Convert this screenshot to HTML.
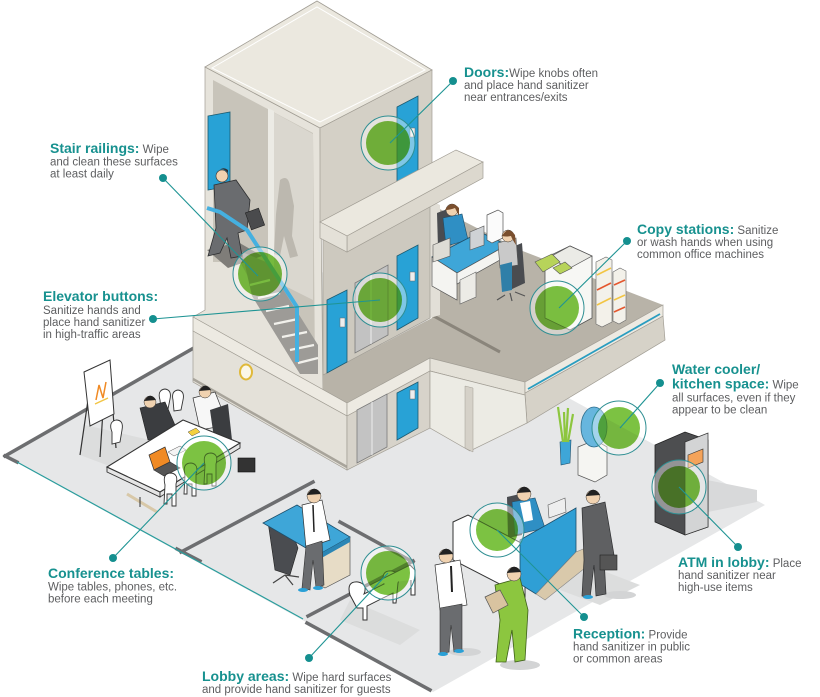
<!DOCTYPE html>
<html><head><meta charset="utf-8">
<style>
html,body{margin:0;padding:0;background:#fff;}
svg{display:block;}
.t{font-family:"Liberation Sans",sans-serif;font-weight:bold;font-size:14px;fill:#17918f;}
.b{font-family:"Liberation Sans",sans-serif;font-size:11.5px;fill:#5d5e60;}
.gc{mix-blend-mode:multiply;}
</style></head><body>
<svg width="820" height="697" viewBox="0 0 820 697" xmlns="http://www.w3.org/2000/svg">
<rect width="820" height="697" fill="#fff"/>

<!-- FLOOR -->
<polygon points="3,455 330,268 765,505 433,692" fill="#e6e7e8"/>
<!-- floor shadows -->
<polygon points="707,480 757,490 757,502 708,512" fill="#d8d9da"/>
<polygon points="575,560 640,585 600,605 560,590" fill="#dcdddd"/>
<polygon points="85,425 150,440 120,470 80,455" fill="#dcdddd"/>
<polygon points="350,600 420,630 400,645 340,620" fill="#dcdddd"/>
<ellipse cx="520" cy="665" rx="20" ry="5" fill="#d3d4d5"/>
<ellipse cx="465" cy="652" rx="16" ry="4" fill="#d3d4d5"/>
<ellipse cx="620" cy="595" rx="16" ry="4" fill="#d3d4d5"/>

<!-- floor walls -->
<g stroke="#6d6e70" stroke-width="3.5" fill="none" stroke-linecap="square">
<line x1="5" y1="456" x2="192" y2="349"/>
<line x1="5" y1="456" x2="17" y2="462"/>
<line x1="181" y1="552" x2="313" y2="482"/>
<line x1="177" y1="549" x2="200" y2="561"/>
<line x1="308" y1="616" x2="413" y2="561"/>
<line x1="340" y1="522" x2="413" y2="562"/>
<line x1="307" y1="623" x2="430" y2="690"/>
</g>
<line x1="17" y1="462" x2="303" y2="619" stroke="#2a9d9d" stroke-width="1.2"/>

<!-- BUILDING -->
<!-- stairwell / tower left face -->
<polygon points="205,67 320,128 323,390 193,317 205,310" fill="#e6e3db" stroke="#a19d94" stroke-width="0.7"/>
<polygon points="213,80 313,133 315,372 300,372 240,262 213,262" fill="#c8c4ba"/>
<polygon points="273,112 313,134 313,300 273,280" fill="#dad7cf"/>
<polygon points="268,108 274,111 274,270 268,268" fill="#ecebe5"/>
<!-- shadow silhouette -->
<path d="M280,180 q8,-6 10,6 l4,20 l-2,30 l6,20 l-8,2 l-6,-22 l-4,20 l-6,-2 l2,-40 z" fill="#bcb8af"/>
<!-- far door -->
<polygon points="208,116 230,112 230,186 208,190" fill="#28a2d6" stroke="#1c5a70" stroke-width="0.8"/>
<!-- landing -->
<polygon points="207,250 238,242 262,256 228,268" fill="#7f7d79"/>
<!-- stairs -->
<polygon points="242,252 266,262 318,345 318,374 300,374 252,296" fill="#9d9b97"/>
<g stroke="#f2f1ec" stroke-width="2.2">
<line x1="250" y1="285" x2="270" y2="280"/>
<line x1="258" y1="298" x2="280" y2="293"/>
<line x1="266" y1="311" x2="289" y2="306"/>
<line x1="274" y1="324" x2="298" y2="319"/>
<line x1="282" y1="337" x2="307" y2="332"/>
<line x1="290" y1="350" x2="314" y2="345"/>
<line x1="298" y1="363" x2="318" y2="358"/>
</g>
<!-- man on stairs -->
<polygon points="214,185 236,180 250,200 247,230 238,233 242,256 231,258 227,238 220,253 208,256 216,228" fill="#6a6c6f" stroke="#2e2f31" stroke-width="0.8"/>
<circle cx="222" cy="176" r="6" fill="#f0d2b0" stroke="#333" stroke-width="0.6"/>
<path d="M216,174 q6,-9 12,-1 l0,-3 q-6,-5 -12,4z" fill="#2f3032"/>
<rect x="248" y="210" width="14" height="18" fill="#4a4b4d" stroke="#222" stroke-width="0.6" transform="rotate(-20 255 219)"/>
<!-- railing -->
<polyline points="207,208 220,212 247,230 297,307 297,362" fill="none" stroke="#45b0e0" stroke-width="4" stroke-linejoin="round"/>

<!-- tower top -->
<polygon points="205,67 317,1 432,70 320,128" fill="#ebe8df" stroke="#a19d94" stroke-width="0.8"/>
<polygon points="212,68 317,7 425,70 320,122" fill="none" stroke="#fff" stroke-width="1"/>
<!-- tower right face upper -->
<polygon points="320,128 432,70 432,163 320,222" fill="#d4d0c6" stroke="#a19d94" stroke-width="0.7"/>
<polygon points="397,107 418,96 418,172 397,183" fill="#28a2d6" stroke="#1c5a70" stroke-width="0.8"/>
<rect x="410" y="128" width="5" height="9" fill="#eee" stroke="#666" stroke-width="0.5"/>

<!-- 2nd floor platform (taupe) -->
<polygon points="432,205 520,250 663,305 525,382 430,358 347,403 323,392 323,375 432,318" fill="#b8b3a8"/>
<line x1="430" y1="314" x2="500" y2="352" stroke="#8a857b" stroke-width="3"/>
<polygon points="430,200 440,205 440,315 430,318" fill="#e2dfd7"/>

<!-- tower lower face -->
<polygon points="323,222 430,166 430,318 323,375" fill="#cdc9bf" stroke="#a19d94" stroke-width="0.7"/>
<polygon points="327,300 347,290 347,362 327,373" fill="#28a2d6" stroke="#1c5a70" stroke-width="0.8"/>
<rect x="340" y="318" width="5" height="9" fill="#eee" stroke="#666" stroke-width="0.5"/>
<polygon points="355,283 388,265 388,335 355,353" fill="#c2c2c2" stroke="#7a7a7a" stroke-width="0.8"/>
<line x1="371" y1="274" x2="371" y2="344" stroke="#eee" stroke-width="1"/>
<polygon points="397,256 418,245 418,318 397,330" fill="#28a2d6" stroke="#1c5a70" stroke-width="0.8"/>
<rect x="410" y="272" width="5" height="9" fill="#eee" stroke="#666" stroke-width="0.5"/>

<!-- slab -->
<polygon points="320,222 456,150 483,162 347,236" fill="#ebe8df" stroke="#a19d94" stroke-width="0.7"/>
<polygon points="347,236 483,162 483,178 347,252" fill="#dcd8ce" stroke="#a19d94" stroke-width="0.7"/>
<polygon points="320,222 347,236 347,252 320,238" fill="#e4e1d8" stroke="#a19d94" stroke-width="0.7"/>

<!-- office on 2nd floor -->
<polygon points="437,213 450,208 452,245 438,248" fill="#4a4c50"/>
<polygon points="443,218 462,214 468,240 446,246" fill="#2f8fc4" stroke="#1d4f6b" stroke-width="0.6"/>
<circle cx="452" cy="210" r="6" fill="#f0d2b0" stroke="#333" stroke-width="0.5"/>
<path d="M445,210 q6,-11 14,-2 l0,8 q-3,-6 -4,-8 q-5,2 -10,2z" fill="#7a4f2e"/>
<polygon points="432,257 480,232 507,245 457,273" fill="#3ea6d8" stroke="#1d4f6b" stroke-width="0.8"/>
<polygon points="432,257 457,273 457,300 432,286" fill="#f4f4f1" stroke="#555" stroke-width="0.7"/>
<polygon points="457,273 507,245 507,256 457,284" fill="#f4f4f1" stroke="#555" stroke-width="0.7"/>
<polygon points="460,280 476,272 476,297 460,304" fill="#ecebe6" stroke="#666" stroke-width="0.6"/>
<polygon points="433,245 450,238 450,256 433,262" fill="#dedcd5" stroke="#555" stroke-width="0.6"/>
<polygon points="470,232 484,226 484,245 470,250" fill="#cfd2d5" stroke="#555" stroke-width="0.6"/>
<polygon points="487,215 498,210 503,213 503,238 492,243 487,240" fill="#fbfbfb" stroke="#555" stroke-width="0.7"/>
<polygon points="505,250 522,243 525,283 510,290" fill="#4a4c50"/>
<polygon points="498,243 516,238 518,265 500,268" fill="#c9c9c9" stroke="#555" stroke-width="0.6"/>
<polygon points="500,265 512,262 512,290 502,292" fill="#2f7fa8"/>
<circle cx="508" cy="236" r="6" fill="#f0d2b0" stroke="#333" stroke-width="0.5"/>
<path d="M502,236 q6,-11 13,-1 l1,10 q-4,-6 -5,-9 q-5,1 -9,0z" fill="#7a4f2e"/>
<g stroke="#555" stroke-width="1.2" fill="none"><path d="M505,295 l-8,5 M515,292 l10,4 M510,293 l2,8"/></g>
<!-- copier -->
<polygon points="545,258 570,246 592,256 592,318 570,330 545,318" fill="#f7f7f4" stroke="#555" stroke-width="0.8"/>
<polygon points="570,246 592,256 570,268 548,258" fill="#ebebe6" stroke="#555" stroke-width="0.7"/>
<polygon points="535,262 552,254 560,262 543,272" fill="#b7d35a" stroke="#555" stroke-width="0.6"/>
<polygon points="553,268 565,262 572,268 560,274" fill="#b7d35a" stroke="#555" stroke-width="0.6"/>
<!-- paper stacks -->
<polygon points="596,262 606,257 612,260 612,322 602,327 596,324" fill="#f3f1ea" stroke="#666" stroke-width="0.6"/>
<polygon points="613,272 620,268 626,271 626,320 619,324 613,321" fill="#f3f1ea" stroke="#666" stroke-width="0.6"/>
<g stroke-width="1.6">
<line x1="597" y1="275" x2="611" y2="268" stroke="#f2c544"/>
<line x1="597" y1="290" x2="611" y2="283" stroke="#e4572e"/>
<line x1="597" y1="305" x2="611" y2="298" stroke="#f2c544"/>
<line x1="614" y1="285" x2="625" y2="280" stroke="#e4572e"/>
<line x1="614" y1="300" x2="625" y2="295" stroke="#f2c544"/>
<line x1="614" y1="312" x2="625" y2="307" stroke="#e4572e"/>
</g>

<!-- ledge bands -->
<polygon points="193,317 347,403 347,416 193,331" fill="#edeae2" stroke="#a19d94" stroke-width="0.7"/>
<polygon points="347,403 430,358 430,371 347,416" fill="#edeae2" stroke="#a19d94" stroke-width="0.7"/>
<polygon points="430,358 525,382 525,395 430,371" fill="#e4e1d8" stroke="#a19d94" stroke-width="0.7"/>
<polygon points="525,393 663,316 665,340 527,423" fill="#d6d2c8" stroke="#a19d94" stroke-width="0.7"/>
<polygon points="525,382 663,305 663,316 525,393" fill="#edeae2" stroke="#a19d94" stroke-width="0.7"/>
<line x1="528" y1="389" x2="660" y2="314" stroke="#2a9dc0" stroke-width="1.8"/>

<!-- ground floor -->
<polygon points="193,331 347,416 347,470 193,382" fill="#e4e1d9" stroke="#a19d94" stroke-width="0.7"/>
<line x1="193" y1="379" x2="347" y2="467" stroke="#a8a49b" stroke-width="2.5"/>
<ellipse cx="246" cy="372" rx="6" ry="7.5" fill="#fbf7e8" stroke="#e0b93a" stroke-width="2"/>
<polygon points="347,416 430,371 430,428 347,470" fill="#d7d3ca" stroke="#a19d94" stroke-width="0.7"/>
<polygon points="357,410 387,394 387,447 357,463" fill="#c3c3c3" stroke="#7a7a7a" stroke-width="0.8"/>
<line x1="372" y1="402" x2="372" y2="455" stroke="#eee" stroke-width="1"/>
<polygon points="397,393 418,382 418,428 397,440" fill="#28a2d6" stroke="#1c5a70" stroke-width="0.8"/>
<rect x="410" y="390" width="5" height="9" fill="#eee" stroke="#666" stroke-width="0.5"/>
<polygon points="430,371 525,395 527,423 470,451 430,428" fill="#ecebe4" stroke="#a19d94" stroke-width="0.7"/>
<polygon points="465,386 473,388 473,452 465,448" fill="#d5d1c8" stroke="#a19d94" stroke-width="0.5"/>

<!-- CONFERENCE ROOM -->
<g stroke="#333" stroke-width="1.2" fill="none">
<line x1="88" y1="400" x2="80" y2="455"/>
<line x1="104" y1="395" x2="100" y2="457"/>
<line x1="112" y1="400" x2="116" y2="448"/>
</g>
<polygon points="84,372 110,360 114,414 90,426" fill="#fff" stroke="#333" stroke-width="1"/>
<polyline points="96,400 99,385 103,398 106,382" fill="none" stroke="#f08a24" stroke-width="1.5"/>
<line x1="95" y1="404" x2="108" y2="398" stroke="#f2c544" stroke-width="1.5"/>
<g fill="#fff" stroke="#333" stroke-width="0.9">
<path d="M112,432 q-4,-10 4,-12 q8,0 6,10 l-2,12 l-8,2z"/>
<path d="M160,400 q-3,-10 5,-11 q7,1 5,10 l-2,10 l-7,1z"/>
<path d="M173,400 q-2,-9 5,-10 q7,1 5,10 l-2,10 l-7,1z"/>
</g>
<polygon points="140,408 165,402 178,432 148,440" fill="#3b3d40" stroke="#222" stroke-width="0.6"/>
<circle cx="150" cy="402" r="6" fill="#f0d2b0" stroke="#333" stroke-width="0.5"/>
<path d="M144,401 q6,-10 12,-1z" fill="#222"/>
<polygon points="193,398 215,392 228,425 200,430" fill="#f7f7f7" stroke="#333" stroke-width="0.7"/>
<polygon points="210,410 228,404 232,440 215,445" fill="#3b3d40"/>
<circle cx="205" cy="392" r="6" fill="#f0d2b0" stroke="#333" stroke-width="0.5"/>
<path d="M199,391 q6,-10 12,-1z" fill="#222"/>
<polygon points="107,467 160,492 160,497 107,472" fill="#e5e5e5" stroke="#333" stroke-width="0.9"/>
<polygon points="160,492 240,443 240,448 160,497" fill="#e5e5e5" stroke="#333" stroke-width="0.9"/>
<polygon points="107,467 183,420 240,443 160,492" fill="#fff" stroke="#333" stroke-width="1.1"/>
<line x1="127" y1="494" x2="157" y2="512" stroke="#d8c8a8" stroke-width="3"/>
<line x1="140" y1="497" x2="140" y2="507" stroke="#333" stroke-width="1"/>
<polygon points="149,455 165,447 170,462 154,470" fill="#f08a24" stroke="#333" stroke-width="0.7"/>
<polygon points="154,470 170,462 180,468 164,476" fill="#555" stroke="#333" stroke-width="0.6"/>
<polygon points="188,432 196,428 200,432 192,436" fill="#f4d03f" stroke="#555" stroke-width="0.5"/>
<polygon points="168,452 180,446 186,450 174,456" fill="#f4f4f4" stroke="#555" stroke-width="0.5"/>
<g fill="#fff" stroke="#333" stroke-width="0.9">
<path d="M165,485 q-3,-12 6,-12 q8,1 5,11 l0,22 l-4,0 l0,-12 l-5,0 l0,10 l-3,0z"/>
<path d="M185,475 q-3,-12 6,-12 q8,1 5,11 l0,22 l-4,0 l0,-12 l-5,0 l0,10 l-3,0z"/>
<path d="M205,465 q-3,-12 6,-12 q8,1 5,11 l0,22 l-4,0 l0,-12 l-5,0 l0,10 l-3,0z"/>
</g>
<rect x="238" y="458" width="17" height="14" fill="#333" stroke="#111" stroke-width="0.6"/>

<!-- LOBBY OFFICE -->
<polygon points="268,522 285,515 298,548 290,575 275,570" fill="#4a4c50" stroke="#222" stroke-width="0.6"/>
<g stroke="#444" stroke-width="1.2"><path d="M285,575 l-12,8 M285,575 l8,10 M285,575 l14,2"/></g>
<polygon points="318,555 350,537 350,575 325,588 318,584" fill="#e7dcc6" stroke="#555" stroke-width="0.7"/>
<polygon points="263,523 297,505 350,537 318,555" fill="#3ea6d8" stroke="#1d4f6b" stroke-width="0.8"/>
<polygon points="318,555 350,537 350,542 318,560" fill="#2b86b5"/>
<polygon points="302,505 322,500 330,540 306,548" fill="#fff" stroke="#333" stroke-width="0.7"/>
<line x1="313" y1="505" x2="314" y2="532" stroke="#222" stroke-width="1.5"/>
<polygon points="306,546 322,541 324,585 316,588 313,560 310,590 302,588" fill="#6a6c6f" stroke="#333" stroke-width="0.6"/>
<ellipse cx="303" cy="590" rx="5" ry="2" fill="#2aa0d6"/>
<ellipse cx="318" cy="588" rx="5" ry="2" fill="#2aa0d6"/>
<circle cx="314" cy="496" r="7" fill="#f0d2b0" stroke="#333" stroke-width="0.5"/>
<path d="M307,495 q7,-12 14,-1z" fill="#222"/>
<g fill="#fff" stroke="#333" stroke-width="1">
<path d="M350,595 q-4,-14 8,-13 q10,2 6,12 l20,-10 q-4,-14 8,-13 q10,2 6,12 l-2,20 l-3,0 l0,-10 l-26,13 l0,14 l-4,0 l0,-12 l-6,0z"/>
<path d="M370,585 l40,-20 l5,5 l0,25 l-4,0 l0,-15"/>
</g>

<!-- WATER COOLER / PLANT -->
<polygon points="560,442 571,440 570,463 561,465" fill="#3ea6d8" stroke="#1d4f6b" stroke-width="0.6"/>
<g stroke="#8dc63f" stroke-width="2.2"><path d="M563,442 l-5,-35 M566,442 l2,-34 M565,442 l-1,-30 M568,442 l5,-28"/></g>
<polygon points="578,447 595,440 607,447 607,475 595,482 578,475" fill="#f5f5f2" stroke="#555" stroke-width="0.7"/>
<ellipse cx="594" cy="427" rx="13" ry="20" fill="#67b6de" stroke="#2f6f8f" stroke-width="0.8"/>
<!-- ATM -->
<polygon points="655,445 685,432 708,440 708,527 685,535 655,522" fill="#4d4e50" stroke="#222" stroke-width="0.8"/>
<polygon points="685,442 708,433 708,527 685,535" fill="#d3d4d5" stroke="#333" stroke-width="0.7"/>
<polygon points="688,455 703,449 703,462 688,468" fill="#f4a35a" stroke="#333" stroke-width="0.6"/>

<!-- RECEPTION -->
<polygon points="507,497 520,494 522,535 508,538" fill="#4a4c50"/>
<polygon points="512,502 535,498 545,528 515,535" fill="#2f8fc4" stroke="#1d4f6b" stroke-width="0.6"/>
<polygon points="520,503 530,501 533,520 524,522" fill="#fff"/>
<circle cx="524" cy="494" r="7" fill="#f0d2b0" stroke="#333" stroke-width="0.5"/>
<path d="M517,493 q7,-12 14,-1z" fill="#222"/>
<polygon points="548,505 565,498 566,512 549,518" fill="#eee" stroke="#555" stroke-width="0.6"/>
<polygon points="453,522 468,515 525,545 525,597 453,560" fill="#fff" stroke="#333" stroke-width="1"/>
<polygon points="520,540 576,508 576,552 536,594 520,584" fill="#2f9fd5" stroke="#1d4f6b" stroke-width="0.8"/>
<polygon points="536,594 576,552 600,542 600,556 545,600" fill="#d9c9ab" stroke="#888" stroke-width="0.6"/>
<polygon points="582,508 605,502 614,555 604,558 606,594 596,596 594,565 590,598 582,596 584,560" fill="#5f6062" stroke="#2e2f31" stroke-width="0.7"/>
<circle cx="593" cy="497" r="7" fill="#f0d2b0" stroke="#333" stroke-width="0.5"/>
<path d="M586,496 q7,-12 14,-1z" fill="#222"/>
<rect x="600" y="555" width="17" height="15" fill="#555" stroke="#222" stroke-width="0.6"/>
<ellipse cx="588" cy="597" rx="5" ry="2" fill="#2aa0d6"/>
<polygon points="435,565 460,560 467,605 440,610" fill="#fff" stroke="#333" stroke-width="0.7"/>
<line x1="451" y1="566" x2="452" y2="592" stroke="#222" stroke-width="2"/>
<polygon points="440,608 462,604 462,650 454,652 451,625 449,652 440,654" fill="#6a6c6f" stroke="#333" stroke-width="0.6"/>
<ellipse cx="443" cy="654" rx="5" ry="2" fill="#2aa0d6"/>
<ellipse cx="459" cy="651" rx="5" ry="2" fill="#2aa0d6"/>
<circle cx="446" cy="556" r="7" fill="#f0d2b0" stroke="#333" stroke-width="0.5"/>
<path d="M439,555 q7,-12 14,-1z" fill="#222"/>
<polygon points="495,585 520,578 528,610 525,660 515,662 512,630 506,662 496,662 500,620" fill="#8cc63f" stroke="#3e5f1a" stroke-width="0.8"/>
<circle cx="514" cy="574" r="7" fill="#f0d2b0" stroke="#333" stroke-width="0.5"/>
<path d="M507,573 q7,-12 14,-1z" fill="#222"/>
<polygon points="485,597 500,590 508,605 493,613" fill="#d9c3a0" stroke="#555" stroke-width="0.7"/>

<!-- GREEN CIRCLES -->
<g stroke="#2f8f93" stroke-width="1">
<circle cx="388" cy="143" r="27" fill="rgba(255,255,255,0.4)"/>
<circle cx="260" cy="274" r="27" fill="rgba(255,255,255,0.4)"/>
<circle cx="380" cy="300" r="27" fill="rgba(255,255,255,0.4)"/>
<circle cx="557" cy="308" r="27" fill="rgba(255,255,255,0.4)"/>
<circle cx="619" cy="428" r="27" fill="rgba(255,255,255,0.4)"/>
<circle cx="679" cy="487" r="27" fill="rgba(255,255,255,0.4)"/>
<circle cx="497" cy="530" r="27" fill="rgba(255,255,255,0.4)"/>
<circle cx="388" cy="573" r="27" fill="rgba(255,255,255,0.4)"/>
<circle cx="204" cy="463" r="27" fill="rgba(255,255,255,0.4)"/>
</g>
<g fill="#7cc242" class="gc">
<circle cx="388" cy="143" r="22"/>
<circle cx="260" cy="274" r="22"/>
<circle cx="380" cy="300" r="22"/>
<circle cx="557" cy="308" r="22"/>
<circle cx="619" cy="428" r="21"/>
<circle cx="679" cy="487" r="21"/>
<circle cx="497" cy="530" r="21"/>
<circle cx="388" cy="573" r="22"/>
<circle cx="204" cy="463" r="22"/>
</g>

<!-- CONNECTORS -->
<g stroke="#1f9494" stroke-width="1.1">
<line x1="453" y1="81" x2="390" y2="143"/>
<line x1="163" y1="178" x2="258" y2="276"/>
<line x1="153" y1="319" x2="380" y2="300"/>
<line x1="627" y1="241" x2="559" y2="308"/>
<line x1="660" y1="383" x2="620" y2="428"/>
<line x1="738" y1="547" x2="679" y2="487"/>
<line x1="584" y1="617" x2="497" y2="530"/>
<line x1="309" y1="658" x2="388" y2="573"/>
<line x1="113" y1="558" x2="204" y2="463"/>
</g>
<g fill="#148f8f">
<circle cx="453" cy="81" r="4"/>
<circle cx="163" cy="178" r="4"/>
<circle cx="153" cy="319" r="4"/>
<circle cx="627" cy="241" r="4"/>
<circle cx="660" cy="383" r="4"/>
<circle cx="738" cy="547" r="4"/>
<circle cx="584" cy="617" r="4"/>
<circle cx="309" cy="658" r="4"/>
<circle cx="113" cy="558" r="4"/>
</g>

<!-- LABELS -->
<text x="464" y="77"><tspan class="t">Doors:</tspan><tspan class="b">Wipe knobs often</tspan></text>
<text x="464" y="89" class="b">and place hand sanitizer</text>
<text x="464" y="101" class="b">near entrances/exits</text>

<text x="50" y="153"><tspan class="t">Stair railings:</tspan><tspan class="b"> Wipe</tspan></text>
<text x="50" y="165.5" class="b">and clean these surfaces</text>
<text x="50" y="177.5" class="b">at least daily</text>

<text x="43" y="301" class="t">Elevator buttons:</text>
<text x="43" y="314" class="b">Sanitize hands and</text>
<text x="43" y="326" class="b">place hand sanitizer</text>
<text x="43" y="338" class="b">in high-traffic areas</text>

<text x="637" y="234"><tspan class="t">Copy stations:</tspan><tspan class="b"> Sanitize</tspan></text>
<text x="637" y="246" class="b">or wash hands when using</text>
<text x="637" y="258" class="b">common office machines</text>

<text x="672" y="374" class="t">Water cooler/</text>
<text x="672" y="388.5"><tspan class="t">kitchen space:</tspan><tspan class="b"> Wipe</tspan></text>
<text x="672" y="401.5" class="b">all surfaces, even if they</text>
<text x="672" y="413.5" class="b">appear to be clean</text>

<text x="678" y="567"><tspan class="t">ATM in lobby:</tspan><tspan class="b"> Place</tspan></text>
<text x="678" y="579" class="b">hand sanitizer near</text>
<text x="678" y="591" class="b">high-use items</text>

<text x="573" y="638.5"><tspan class="t">Reception:</tspan><tspan class="b"> Provide</tspan></text>
<text x="573" y="650.5" class="b">hand sanitizer in public</text>
<text x="573" y="662.5" class="b">or common areas</text>

<text x="202" y="681"><tspan class="t">Lobby areas:</tspan><tspan class="b"> Wipe hard surfaces</tspan></text>
<text x="202" y="693" class="b">and provide hand sanitizer for guests</text>

<text x="48" y="578" class="t">Conference tables:</text>
<text x="48" y="590.5" class="b">Wipe tables, phones, etc.</text>
<text x="48" y="602.5" class="b">before each meeting</text>
</svg>
</body></html>
